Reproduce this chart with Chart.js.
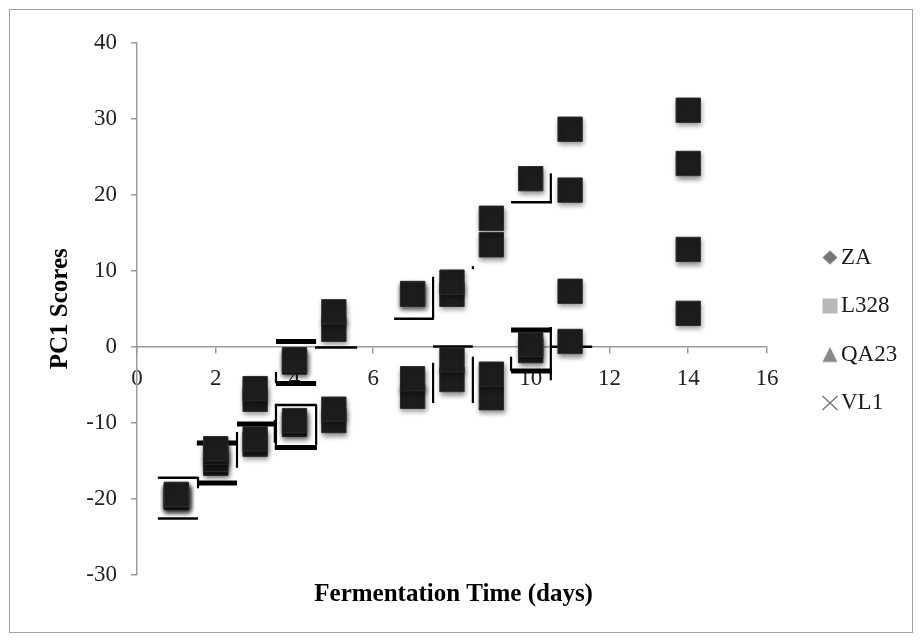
<!DOCTYPE html>
<html>
<head>
<meta charset="utf-8">
<script src="https://cdn.jsdelivr.net/npm/chart.js@4.4.1/dist/chart.umd.min.js"></script>
<style>
  html, body { margin: 0; padding: 0; background: #fff; }
  #wrap { position: relative; width: 922px; height: 641px; }
  #wrap canvas { position: absolute; left: 0; top: 0; }
  #frame { position: absolute; left: 9px; top: 9px; width: 902px; height: 622px;
           border: 1px solid #a3a3a3; pointer-events: none; }
</style>
</head>
<body>
<div id="wrap">
  <canvas id="chart" width="922" height="641"></canvas>
  <div id="frame"></div>
</div>
<script>
// Sampling days and PC1 scores per strain
const days = [1, 2, 3, 4, 5, 7, 8, 9, 10, 11, 14];
const strainNames = ['ZA', 'L328', 'QA23', 'VL1'];
const scoresZA   = [-19.4, -13.4, -5.5, -1.7, 4.6, 6.9, 8.5, 16.9, 22.1, 28.6, 31.1];
const scoresL328 = [-19.5, -13.9, -6.9, -2.0, 2.3, 7.0, 6.9, 13.4, null, 20.6, 24.1];
const scoresQA23 = [-19.7, -14.8, -12.1, -9.7, -8.2, -4.2, -1.7, -3.6, 0.3, 7.3, 12.8];
const scoresVL1  = [-19.8, -15.3, -12.8, -10.2, -9.7, -6.5, -4.3, -6.7, -0.5, 0.7, 4.4];

// Axis ticks
const xTicks = [0, 2, 4, 6, 8, 10, 12, 14, 16];
const yTicks = [-30, -20, -10, 0, 10, 20, 30, 40];

// Error-bar pieces in data units: caps [dayFrom, dayTo, score], stems [day, scoreFrom, scoreTo]
const capsHeavy = [
  [1.52, 2.54, -12.65], [1.55, 2.54, -17.9], [2.54, 3.50, -10.15],
  [3.53, 4.55, 0.7], [3.53, 4.55, -4.82], [3.50, 4.57, -13.24],
  [9.50, 10.54, 2.2], [9.50, 10.54, -3.18]
];
const capsLight = [
  [0.53, 1.55, -17.2], [0.53, 1.55, -22.57], [3.50, 4.57, -7.65],
  [4.52, 5.59, -0.1], [6.53, 7.54, 3.7], [7.52, 8.53, 0.05],
  [9.50, 10.54, 19.0], [10.49, 11.56, 0.0]
];
const stems = [
  [1.55, -17.1, -18.6], [2.54, -11.2, -15.9], [3.50, -9.6, -12.6],
  [3.53, -7.65, -13.3], [4.55, -7.65, -12.9], [3.53, -3.3, -4.8],
  [7.52, 9.2, 3.65], [7.52, -2.1, -7.4], [8.53, -1.3, -7.4],
  [8.53, 10.6, 10.2], [10.51, 22.8, 18.9], [10.51, 2.6, -4.4], [9.50, -1.3, -3.2]
];

const SERIF = '"Liberation Serif", "Times New Roman", Times, serif';

function toPoints(values) {
  return days.map((d, i) => ({ x: d, y: values[i] })).filter(p => p.y !== null);
}

// Small grey legend symbols, offset to the right of their box
function legendIcon(kind, color) {
  const c = document.createElement('canvas');
  c.width = 58; c.height = 20;
  const g = c.getContext('2d');
  const cx = 48, cy = 10;
  g.fillStyle = color; g.strokeStyle = color;
  g.beginPath();
  if (kind === 'diamond') {
    g.moveTo(cx - 7.5, cy); g.lineTo(cx, cy - 7); g.lineTo(cx + 7.5, cy); g.lineTo(cx, cy + 7);
    g.closePath(); g.fill();
  } else if (kind === 'square') {
    g.fillRect(cx - 7.5, cy - 7.5, 15, 15);
  } else if (kind === 'triangle') {
    g.moveTo(cx, cy - 7.5); g.lineTo(cx + 7.5, cy + 7.5); g.lineTo(cx - 7.5, cy + 7.5);
    g.closePath(); g.fill();
  } else {
    g.lineWidth = 1.4;
    g.moveTo(cx - 7.5, cy - 7); g.lineTo(cx + 7.5, cy + 7);
    g.moveTo(cx + 7.5, cy - 7); g.lineTo(cx - 7.5, cy + 7);
    g.stroke();
  }
  return c;
}
const legendIcons = [
  legendIcon('diamond', '#767676'),
  legendIcon('square', '#b9b9b9'),
  legendIcon('triangle', '#8a8a8a'),
  legendIcon('cross', '#777777')
];

function drawWhiskers(chart) {
  const { ctx, scales: { x, y } } = chart;
  ctx.save();
  ctx.strokeStyle = '#000';
  ctx.lineCap = 'butt';
  const seg = (x1, y1, x2, y2, w) => {
    ctx.lineWidth = w;
    ctx.beginPath();
    ctx.moveTo(x.getPixelForValue(x1), y.getPixelForValue(y1));
    ctx.lineTo(x.getPixelForValue(x2), y.getPixelForValue(y2));
    ctx.stroke();
  };
  capsHeavy.forEach(([a, b, v]) => seg(a, v, b, v, 5));
  capsLight.forEach(([a, b, v]) => seg(a, v, b, v, 2.5));
  stems.forEach(([d, lo, hi]) => seg(d, lo, d, hi, 2.2));
  ctx.restore();
}

// Error bars under the markers, soft drop shadow on the markers
const markerLayer = {
  id: 'markerLayer',
  beforeDatasetsDraw(chart) {
    drawWhiskers(chart);
    const ctx = chart.ctx;
    ctx.save();
    ctx.shadowColor = 'rgba(0,0,0,0.45)';
    ctx.shadowBlur = 5;
    ctx.shadowOffsetX = 1;
    ctx.shadowOffsetY = 3;
  },
  afterDatasetsDraw(chart) {
    chart.ctx.restore();
  }
};

const seriesValues = [scoresZA, scoresL328, scoresQA23, scoresVL1];
const datasets = strainNames.map((name, i) => ({
  label: name,
  data: toPoints(seriesValues[i]),
  pointStyle: 'rect',
  pointRadius: 17.2,
  pointHoverRadius: 17.2,
  backgroundColor: '#1d1d1d',
  borderColor: '#2c2c2c',
  borderWidth: 1,
  showLine: false
}));

const axisGrey = '#9b9b9b';

new Chart(document.getElementById('chart'), {
  type: 'scatter',
  data: { datasets },
  plugins: [markerLayer],
  options: {
    responsive: false,
    devicePixelRatio: 1,
    animation: false,
    events: [],
    layout: { padding: { left: 0, top: 42.5, right: 14.8, bottom: 23 } },
    scales: {
      x: {
        type: 'linear',
        position: { y: 0 },
        min: xTicks[0],
        max: xTicks[xTicks.length - 1],
        afterBuildTicks: s => { s.ticks = xTicks.map(v => ({ value: v })); },
        ticks: { font: { family: SERIF, size: 23 }, color: '#222', padding: 12, maxRotation: 0 },
        grid: { drawOnChartArea: false, drawTicks: true, tickLength: 6, color: axisGrey, lineWidth: 1.5 },
        border: { color: axisGrey, width: 1.5 }
      },
      y: {
        type: 'linear',
        position: 'left',
        min: yTicks[0],
        max: yTicks[yTicks.length - 1],
        afterBuildTicks: s => { s.ticks = yTicks.map(v => ({ value: v })); },
        afterFit: s => { s.width = 137; },
        ticks: { font: { family: SERIF, size: 23 }, color: '#222', padding: 14 },
        grid: { drawOnChartArea: false, drawTicks: true, tickLength: 6, color: axisGrey, lineWidth: 1.5 },
        border: { color: axisGrey, width: 1.5 },
        title: {
          display: true,
          text: 'PC1 Scores',
          font: { family: SERIF, size: 25, weight: 'bold' },
          color: '#000',
          padding: { top: 46, bottom: 0 }
        }
      }
    },
    plugins: {
      tooltip: { enabled: false },
      title: {
        display: true,
        position: 'bottom',
        text: 'Fermentation Time (days)',
        font: { family: SERIF, size: 25, weight: 'bold' },
        color: '#000',
        padding: { top: 5, bottom: 8 }
      },
      legend: {
        position: 'right',
        align: 'center',
        labels: {
          usePointStyle: true,
          pointStyleWidth: 37,
          padding: 25.5,
          color: '#1a1a1a',
          font: { family: SERIF, size: 23 },
          generateLabels: () => strainNames.map((name, i) => ({
            text: name,
            pointStyle: legendIcons[i],
            fillStyle: '#888',
            strokeStyle: '#888',
            lineWidth: 0,
            hidden: false,
            datasetIndex: i,
            fontColor: '#1a1a1a'
          }))
        }
      }
    }
  }
});
</script>
</body>
</html>
